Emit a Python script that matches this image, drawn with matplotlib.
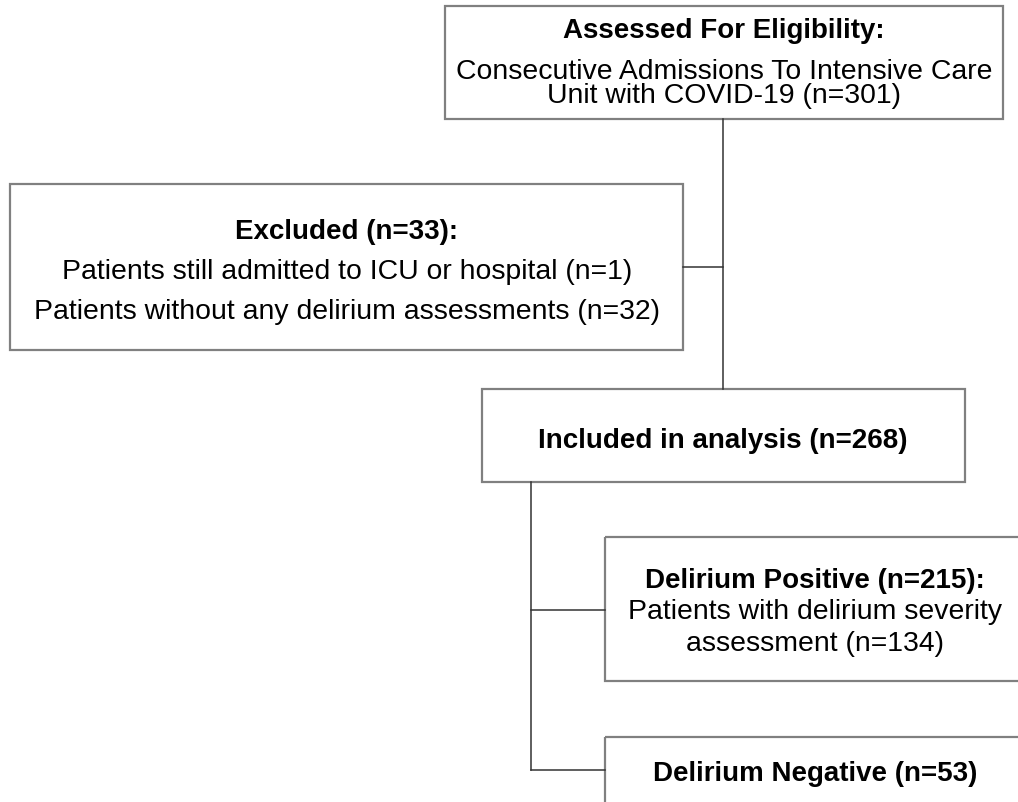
import matplotlib
matplotlib.use("Agg")
import matplotlib.pyplot as plt
from matplotlib.patches import Rectangle

plt.rcParams['font.family'] = ['Liberation Sans', 'DejaVu Sans']

# ---- content ----
box_titles = [
    "Assessed For Eligibility:",
    "Excluded (n=33):",
    "Included in analysis (n=268)",
    "Delirium Positive (n=215):",
    "Delirium Negative (n=53)",
]
box_bodies = [
    ["Consecutive Admissions To Intensive Care", "Unit with COVID-19 (n=301)"],
    ["Patients still admitted to ICU or hospital (n=1)",
     "Patients without any delirium assessments (n=32)"],
    [],
    ["Patients with delirium severity", "assessment (n=134)"],
    [],
]

# ---- layout (pixel coordinates) ----
W, H = 1018, 803
boxes = [  # x0, y0, x1, y1
    (445, 7, 1003, 120),
    (10, 185, 683, 351),
    (482, 390, 965, 483),
    (605, 538, 1030, 682),
    (605, 738, 1030, 860),
]
title_base = [38, 239, 448, 588, 781]
body_base = [[79, 103], [279, 319], [], [619, 651], []]
text_cx = [724, 347, 723, 815, 815]

fig = plt.figure(figsize=(W / 100, H / 100), dpi=100)
ax = fig.add_axes([0, 0, 1, 1])
ax.set_xlim(0, W)
ax.set_ylim(H, 0)
ax.axis('off')

edge = '#808080'
conn = '#333333'
fs_body = 20.4
fs_title = 20.0

for i, (x0, y0, x1, y1) in enumerate(boxes):
    ax.add_patch(Rectangle((x0, y0), x1 - x0, y1 - y0, fill=False,
                           edgecolor=edge, linewidth=1.6, clip_on=True))
    ax.text(text_cx[i], title_base[i], box_titles[i], ha='center',
            va='baseline', fontsize=fs_title, fontweight='bold', color='black')
    for line, yb in zip(box_bodies[i], body_base[i]):
        ax.text(text_cx[i], yb, line, ha='center', va='baseline',
                fontsize=fs_body, color='black')

# connectors
ax.plot([723, 723], [120, 390], color=conn, lw=1.1)
ax.plot([683, 723], [268, 268], color=conn, lw=1.1)
ax.plot([531, 531], [483, 771], color=conn, lw=1.1)
ax.plot([531, 605], [611, 611], color=conn, lw=1.1)
ax.plot([531, 605], [771, 771], color=conn, lw=1.1)

fig.savefig('out.png', dpi=100, facecolor='white')
